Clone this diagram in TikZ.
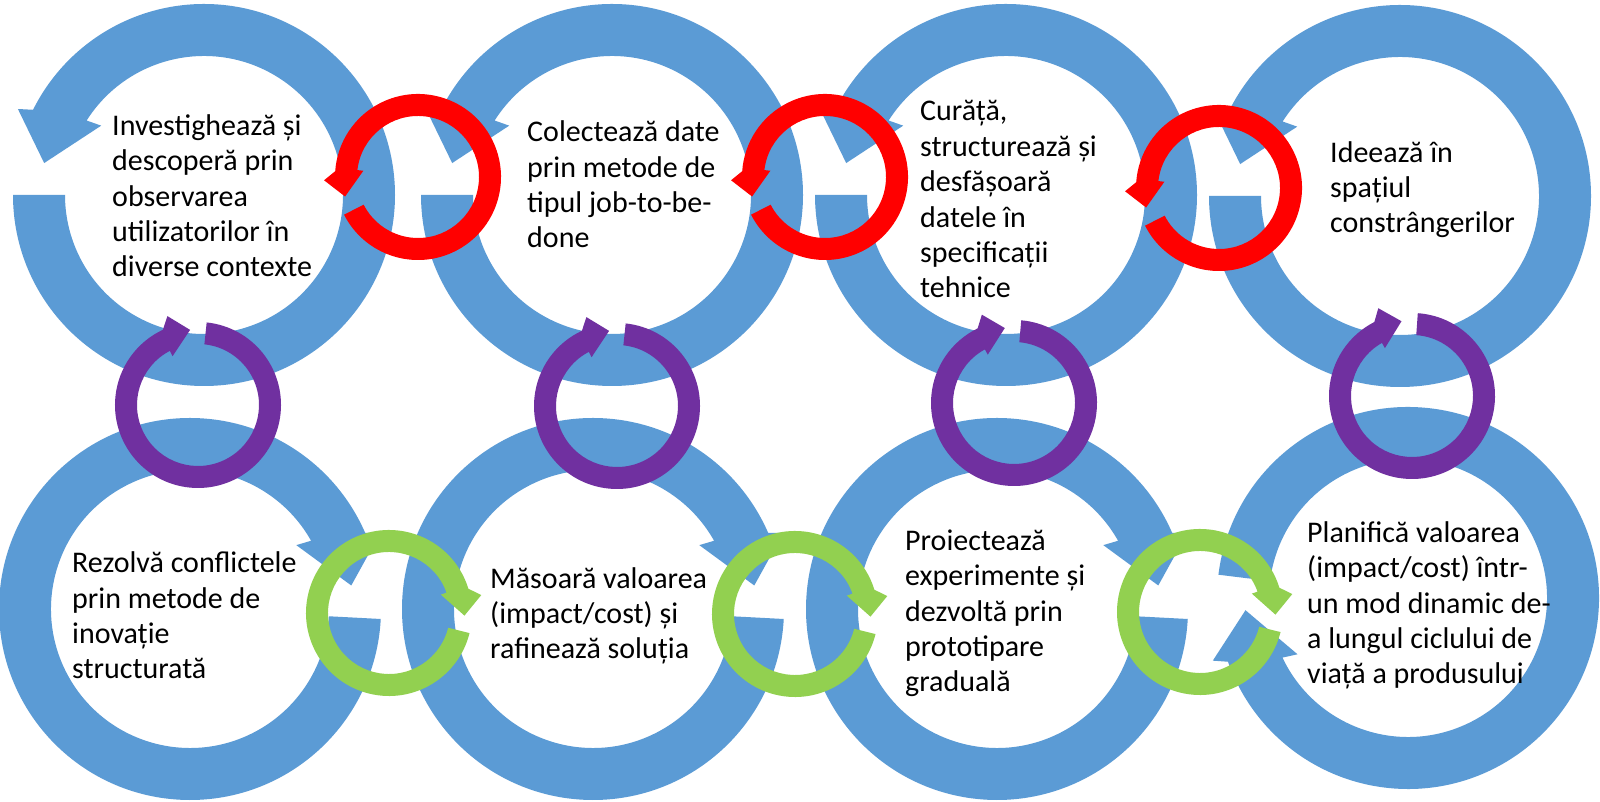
\documentclass[tikz,border=0pt]{standalone}
\usepackage{fontspec}
\setmainfont{Carlito}
\definecolor{cblue}{HTML}{5B9BD5}
\definecolor{cred}{HTML}{FF0000}
\definecolor{cpurple}{HTML}{7030A0}
\definecolor{cgreen}{HTML}{92D050}
% big circular arrow: #1 cx, #2 cy, #3 tail angle, #4 sign (1 ccw, -1 cw)
\newcommand{\bigcircarrow}[4]{%
\begin{scope}[shift={(#1,#2)}]
\fill[cblue] (#3:191) arc[start angle=#3, end angle={#3+(#4)*(360-26.5)}, radius=191]
 -- ({#3+(#4)*(360-24.8)}:205) -- ({#3+(#4)*(360-11.3)}:163) -- ({#3+(#4)*(360-34)}:124)
 -- ({#3+(#4)*(360-32.4)}:139)
 arc[start angle={#3+(#4)*(360-32.4)}, end angle=#3, radius=139] -- cycle;
\end{scope}}
% small circular arrow: #1 cx, #2 cy, #3 tail angle, #4 sign, #5 colour
\newcommand{\smallcircarrow}[5]{%
\begin{scope}[shift={(#1,#2)}]
\fill[#5] (#3:83) arc[start angle=#3, end angle={#3+(#4)*(360-31)}, radius=83]
 -- ({#3+(#4)*(360-25)}:94) -- ({#3+(#4)*(360-12)}:75.5) -- ({#3+(#4)*(360-33.5)}:55)
 -- ({#3+(#4)*(360-33.5)}:61)
 arc[start angle={#3+(#4)*(360-33.5)}, end angle=#3, radius=61] -- cycle;
\end{scope}}
% base anchor = baseline of the last line
\tikzset{txt/.style={font=\fontsize{30}{35.4}\selectfont, align=left, inner sep=0pt, anchor=base west, text=black}}
\begin{document}
\begin{tikzpicture}[x=1pt,y=1pt]
\useasboundingbox (0,0) rectangle (1600,802);
\fill[white] (0,0) rectangle (1600,802);
% big blue arrows, top row
\bigcircarrow{204}{607}{180}{1}
\bigcircarrow{612}{607}{180}{1}
\bigcircarrow{1006}{607}{180}{1}
\bigcircarrow{1400}{606}{180}{1}
% bottom row
\bigcircarrow{190}{193}{-3}{-1}
\bigcircarrow{593}{193}{-3}{-1}
\bigcircarrow{997}{193}{-3}{-1}
\bigcircarrow{1408}{204}{173}{-1}
% red
\smallcircarrow{418}{625}{207}{1}{cred}
\smallcircarrow{825}{625}{207}{1}{cred}
\smallcircarrow{1219}{614}{207}{1}{cred}
% purple
\smallcircarrow{198}{397}{84}{-1}{cpurple}
\smallcircarrow{617}{396}{84}{-1}{cpurple}
\smallcircarrow{1014}{399}{85}{-1}{cpurple}
\smallcircarrow{1412}{406}{86}{-1}{cpurple}
% green
\smallcircarrow{389}{189}{-14}{-1}{cgreen}
\smallcircarrow{795}{188}{-14}{-1}{cgreen}
\smallcircarrow{1200}{190}{-14}{-1}{cgreen}
% texts
\node[txt] (t1) at (112,525) {Investighează și\\descoperă prin\\observarea\\utilizatorilor în\\diverse contexte};
\node[txt] (t2) at (527,554) {Colectează date\\prin metode de\\tipul job-to-be-\\done};
\node[txt] (t3) at (920,504) {Curăță,\\structurează și\\desfășoară\\datele în\\specificații\\tehnice};
\node[txt] (t4) at (1330,569) {Ideează în\\spațiul\\constrângerilor};
\node[txt] (t5) at (72,123) {Rezolvă conflictele\\prin metode de\\inovație\\structurată};
\node[txt] (t6) at (490,143) {Măsoară valoarea\\(impact/cost) și\\rafinează soluția};
\node[txt] (t7) at (905,110) {Proiectează\\experimente și\\dezvoltă prin\\prototipare\\graduală};
\node[txt] (t8) at (1307,118) {Planifică valoarea\\(impact/cost) într-\\un mod dinamic de-\\a lungul ciclului de\\viață a produsului};
\end{tikzpicture}
\end{document}
